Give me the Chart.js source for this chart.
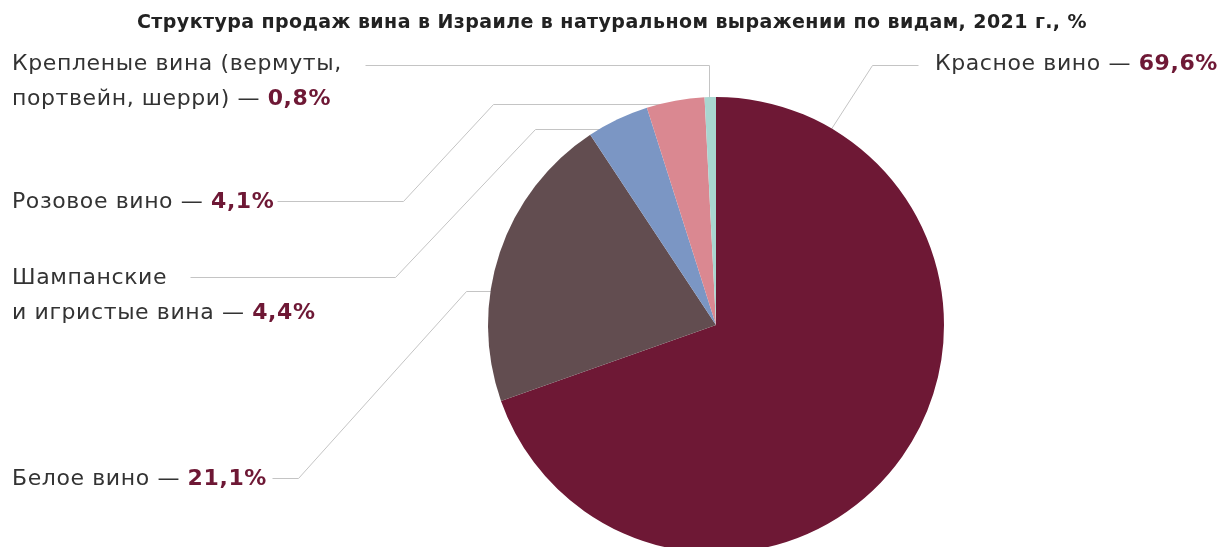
<!DOCTYPE html>
<html>
<head>
<meta charset="utf-8">
<script src="https://cdn.jsdelivr.net/npm/chart.js@4.4.0/dist/chart.umd.min.js"></script>
<style>
  html, body { margin: 0; padding: 0; background: #fff; overflow: hidden; }
  #wrap { width: 1224px; height: 560px; position: relative; }
</style>
</head>
<body>
<div id="wrap"><canvas id="wineChart"></canvas></div>
<script>
// data
const categories = ['Красное вино', 'Белое вино', 'Шампанские и игристые вина', 'Розовое вино', 'Крепленые вина (вермуты, портвейн, шерри)'];
const shares = [69.6, 21.1, 4.4, 4.1, 0.8];
const sliceColors = ['#6e1835', '#624d50', '#7b96c4', '#da8891', '#a9d6d0'];
const titleText = 'Структура продаж вина в Израиле в натуральном выражении по видам, 2021 г., %';

const FONT = '"DejaVu Sans", sans-serif';
const fmt = v => v.toFixed(1).replace('.', ',') + '%';

// label text lines per slice (last line gets " — value")
const labelLines = [
    ['Красное вино'],
    ['Белое вино'],
    ['Шампанские', 'и игристые вина'],
    ['Розовое вино'],
    ['Крепленые вина (вермуты,', 'портвейн, шерри)']
];

// where labels and leader lines go
const labelPos = [
    { x: 1218, y: 64, align: 'right' },
    { x: 12, y: 479 },
    { x: 12, y: 278 },
    { x: 12, y: 202 },
    { x: 12, y: 64 }
];
const leaders = [
    { pts: [[918, 65], [872, 65]], end: { angle: 30.5 } },
    { pts: [[272, 478], [298, 478], [466, 291]], end: 'h' },
    { pts: [[190, 277], [395, 277], [535, 129]], end: 'h' },
    { pts: [[277, 201], [403, 201], [493, 104]], end: 'h' },
    { pts: [[365, 65], [709, 65]], end: 'v' }
];
const TITLE_W = 950;   // width of title in the reference
const RED_W = 283;     // width of "Красное вино — 69,6%" in the reference

function spacingFor(ctx, font, text, target) {
    ctx.font = font;
    ctx.letterSpacing = '0px';
    const w = ctx.measureText(text).width;
    return (target - w) / text.length;
}

const labelsPlugin = {
    id: 'wineLabels',
    beforeDatasetsDraw(chart) {
        const ctx = chart.ctx;
        const arc = chart.getDatasetMeta(0).data[0];
        const cx = arc.x, cy = arc.y, r = arc.outerRadius;
        ctx.save();
        ctx.strokeStyle = '#c4c4c4';
        ctx.lineWidth = 1;
        leaders.forEach(l => {
            const pts = l.pts.map(p => [p[0] + 0.5, p[1] + 0.5]);
            const last = pts[pts.length - 1];
            if (l.end === 'h') {
                const dy = last[1] - cy;
                pts.push([cx - Math.sqrt(r * r - dy * dy) + 2, last[1]]);
            } else if (l.end === 'v') {
                const dx = last[0] - cx;
                pts.push([last[0], cy - Math.sqrt(r * r - dx * dx) + 2]);
            } else {
                const a = l.end.angle * Math.PI / 180;
                pts.push([cx + (r - 2) * Math.sin(a), cy - (r - 2) * Math.cos(a)]);
            }
            ctx.beginPath();
            pts.forEach((p, i) => i ? ctx.lineTo(p[0], p[1]) : ctx.moveTo(p[0], p[1]));
            ctx.stroke();
        });
        ctx.restore();
    },
    afterDraw(chart) {
        const ctx = chart.ctx;
        ctx.save();
        ctx.textBaseline = 'middle';
        // title
        const titleFont = 'bold 19px ' + FONT;
        const ts = spacingFor(ctx, titleFont, titleText, TITLE_W);
        ctx.font = titleFont;
        ctx.letterSpacing = ts + 'px';
        ctx.fillStyle = '#222';
        ctx.textAlign = 'left';
        ctx.fillText(titleText, 612 - TITLE_W / 2, 23);

        const normal = '22px ' + FONT;
        const bold = 'bold 22px ' + FONT;
        // same spacing for all labels, fitted on the red one
        ctx.font = normal;
        ctx.letterSpacing = '0px';
        const rw = ctx.measureText('Красное вино — ').width;
        ctx.font = bold;
        const rv = ctx.measureText(fmt(shares[0])).width;
        const ls = (RED_W - rw - rv) / ('Красное вино — ' + fmt(shares[0])).length;
        ctx.letterSpacing = ls + 'px';

        labelLines.forEach((lines, i) => {
            const pos = labelPos[i];
            lines.forEach((txt, j) => {
                const y = pos.y + j * 35;
                const isLast = j === lines.length - 1;
                ctx.textAlign = 'left';
                ctx.font = normal;
                const head = isLast ? txt + ' — ' : txt;
                const w1 = ctx.measureText(head).width;
                ctx.font = bold;
                const val = isLast ? fmt(shares[i]) : '';
                const w2 = val ? ctx.measureText(val).width : 0;
                let x = pos.align === 'right' ? pos.x - w1 - w2 : pos.x;
                ctx.font = normal;
                ctx.fillStyle = '#333';
                ctx.fillText(head, x, y);
                if (val) {
                    ctx.font = bold;
                    ctx.fillStyle = '#6e1835';
                    ctx.fillText(val, x + w1, y);
                }
            });
        });
        ctx.restore();
    }
};

new Chart(document.getElementById('wineChart'), {
    type: 'pie',
    data: {
        labels: categories,
        datasets: [{
            data: shares,
            backgroundColor: sliceColors,
            borderWidth: 0
        }]
    },
    options: {
        responsive: true,
        maintainAspectRatio: false,
        animation: false,
        layout: { padding: { left: 488, right: 280, top: 97, bottom: 7 } },
        plugins: {
            legend: { display: false },
            tooltip: { enabled: false }
        }
    },
    plugins: [labelsPlugin]
});
</script>
</body>
</html>
